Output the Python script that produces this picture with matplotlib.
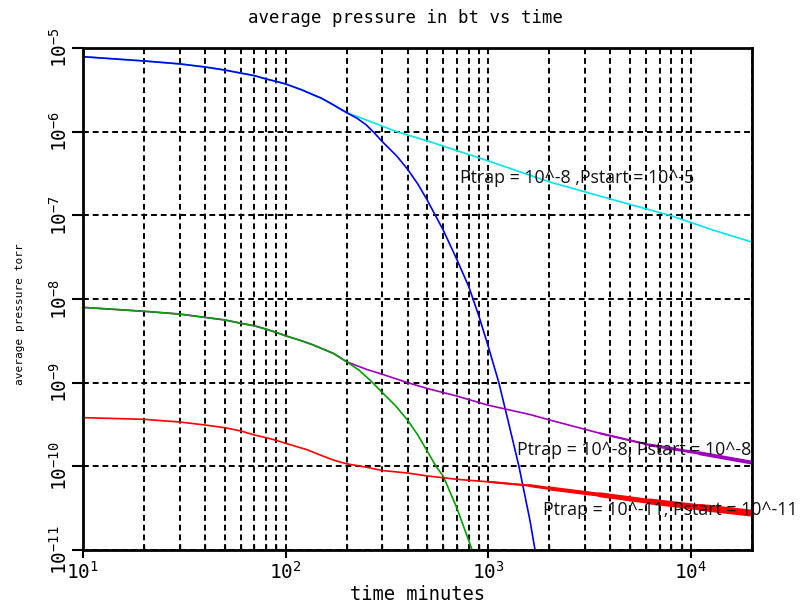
import numpy as np
import matplotlib
matplotlib.use("Agg")
import matplotlib.pyplot as plt
from matplotlib.collections import LineCollection
from matplotlib.ticker import LogLocator, NullLocator, LogFormatterMathtext

# values (pressure given as log10 torr)
t_early = [10, 20, 30, 40, 50, 60, 70, 80, 90, 100, 120, 137, 150, 172, 200]
hi_early = [-5.104, -5.155, -5.19, -5.227, -5.263, -5.30, -5.33, -5.37, -5.40, -5.43,
            -5.50, -5.56, -5.60, -5.68, -5.773]
mid_early = [-8.10, -8.147, -8.18, -8.22, -8.25, -8.29, -8.32, -8.36, -8.40, -8.44,
             -8.50, -8.55, -8.59, -8.65, -8.75]

# Pstart = 1e-5, no trap (blue) and Ptrap = 1e-8 (cyan)
t_blue = [225, 250, 275, 300, 353, 400, 450, 500, 600, 700, 800, 900, 1000, 1127, 1250,
          1416, 1603, 1700, 1800]
p_blue = [-5.84, -5.92, -6.02, -6.12, -6.29, -6.45, -6.63, -6.82, -7.18, -7.53, -7.85,
          -8.21, -8.57, -9.0, -9.45, -10.0, -10.64, -11.0, -11.37]
t_cyan = [250, 353, 500, 668, 1000, 2000, 5000, 7870, 12800, 20000]
p_cyan = [-5.86, -6.0, -6.11, -6.21, -6.35, -6.60, -6.87, -7.0, -7.175, -7.32]

# Pstart = 1e-8, no trap (green) and Ptrap = 1e-8 (purple)
t_green = [230, 261, 292, 350, 400, 450, 500, 552, 600, 700, 832, 900]
p_green = [-8.85, -8.97, -9.09, -9.28, -9.45, -9.63, -9.82, -10.0, -10.12, -10.50,
           -11.0, -11.25]
t_purple = [250, 300, 400, 500, 700, 1000, 1600, 2000, 3550, 6270, 11070, 20000]
p_purple = [-8.84, -8.90, -9.0, -9.07, -9.16, -9.27, -9.38, -9.445, -9.605, -9.745,
            -9.845, -9.956]

# Pstart = Ptrap = 1e-11 (red)
t_red = [10, 20, 30, 40, 50, 60, 70, 80, 90, 100, 127, 150, 172, 200, 250, 300, 400,
         500, 700, 1000, 1600, 2013, 3550, 6270, 11070, 20000]
p_red = [-9.418, -9.438, -9.47, -9.506, -9.538, -9.577, -9.625, -9.657, -9.69, -9.725,
         -9.80, -9.87, -9.925, -9.97, -10.01, -10.05, -10.08, -10.115, -10.155, -10.185,
         -10.23, -10.265, -10.34, -10.42, -10.49, -10.56]

labels = ["Ptrap = 10^-8 ,Pstart = 10^-5",
          "Ptrap = 10^-8, Pstart = 10^-8",
          "Ptrap = 10^-11, Pstart = 10^-11"]
label_t = [725, 1384, 1860]
label_p = [-6.554, -9.805, -10.522]

plt.rcParams["font.family"] = "DejaVu Sans Mono"
plt.rcParams["mathtext.fontset"] = "custom"
plt.rcParams["mathtext.rm"] = "DejaVu Sans Mono"

fig = plt.figure(figsize=(8.08, 6.07), dpi=100)
ax = fig.add_axes([83 / 808, 57 / 607, 669 / 808, 502 / 607])
ax.set_xscale("log")
ax.set_yscale("log")


def curve(t, lp):
    return np.array(t, dtype=float), 10.0 ** np.array(lp)


def widening(ax, x, y, color, w0, w1):
    # noisy tails drawn as a line that gets wider
    segs = np.column_stack([x, y]).reshape(-1, 1, 2)
    segs = np.concatenate([segs[:-1], segs[1:]], axis=1)
    ax.add_collection(LineCollection(segs, colors=color,
                                     linewidths=np.linspace(w0, w1, len(segs)),
                                     capstyle="round"))


x, y = curve(t_early + t_cyan, hi_early + p_cyan)
ax.plot(x, y, color="#00e5ee", lw=1.2)
x, y = curve(t_early + t_blue, hi_early + p_blue)
ax.plot(x, y, color="#0000ee", lw=1.2)
x, y = curve(t_early + t_purple, mid_early + p_purple)
ax.plot(x, y, color="#a000c0", lw=1.2)
widening(ax, x[x >= 3000], y[x >= 3000], "#a000c0", 1.4, 2.8)
x, y = curve(t_early + t_green, mid_early + p_green)
ax.plot(x, y, color="#00a000", lw=1.2)

x, y = curve(t_red, p_red)
ax.plot(x, y, color="#ff0000", lw=1.2)
widening(ax, x[x >= 1000], y[x >= 1000], "#ff0000", 1.5, 5.0)

for txt, lt, lp in zip(labels, label_t, label_p):
    ax.text(lt, 10.0 ** lp, txt, ha="left", va="center", fontsize=12.8,
            family=["Open Sans", "DejaVu Sans"], color="#111111", clip_on=False)

ax.set_xlim(10, 2e4)
ax.set_ylim(1e-11, 1e-5)
ax.xaxis.set_major_locator(LogLocator(base=10))
ax.xaxis.set_minor_locator(LogLocator(base=10, subs=np.arange(2, 10)))
ax.xaxis.set_major_formatter(LogFormatterMathtext())
ax.set_yticks(10.0 ** np.arange(-11, -4))
ax.yaxis.set_major_formatter(LogFormatterMathtext())
ax.yaxis.set_minor_locator(NullLocator())

ax.tick_params(axis="x", which="major", direction="out", length=6, width=1.5,
               labelsize=14, pad=2)
ax.tick_params(axis="x", which="minor", direction="in", length=4, width=1)
ax.tick_params(axis="y", which="major", direction="out", length=8, width=1.5,
               labelsize=14, labelrotation=90, pad=1)
for lbl in ax.get_yticklabels():
    lbl.set_va("center")

grid_style = dict(color="k", linestyle=(0, (3, 2)), linewidth=1.4)
ax.grid(True, which="both", axis="x", **grid_style)
ax.grid(True, which="major", axis="y", **grid_style)
for sp in ax.spines.values():
    sp.set_linewidth(2)

fig.text(405 / 808, 1 - 18 / 607, "average pressure in bt vs time",
         ha="center", va="center", fontsize=12.5)
fig.text(418 / 808, 1 - 595 / 607, "time minutes", ha="center", va="center",
         fontsize=13.5)
fig.text(20 / 808, 1 - 314 / 607, "average pressure torr", ha="center",
         va="center", rotation=90, fontsize=8)

fig.savefig("out.png", dpi=100)
